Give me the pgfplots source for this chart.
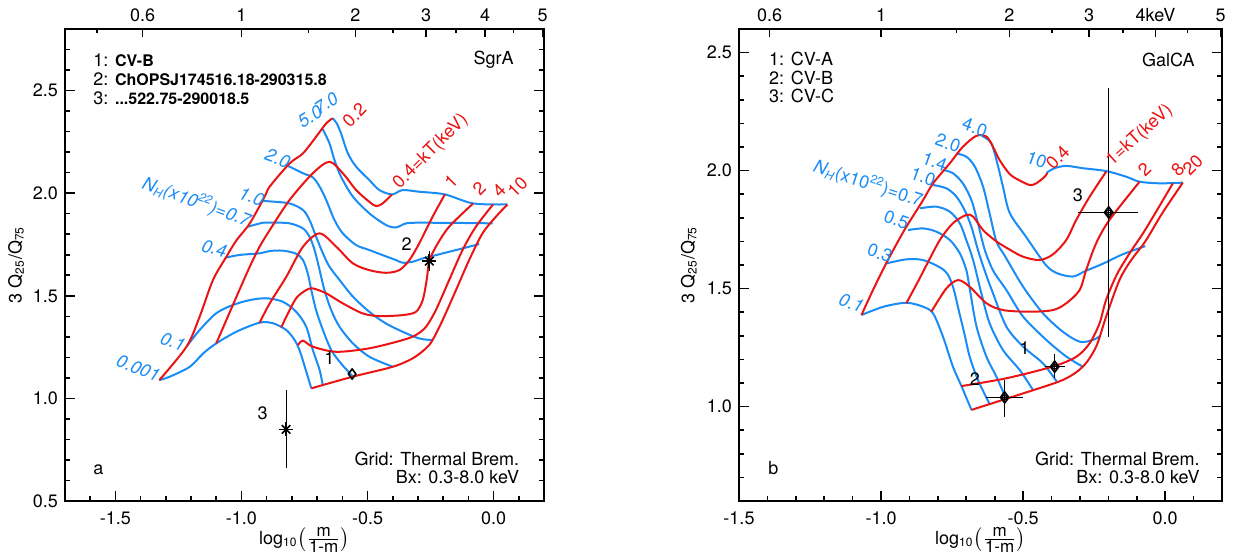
\documentclass[border=0pt]{standalone}
\usepackage{pgfplots}
\pgfplotsset{compat=1.18}
\usepackage{fontspec}
\setmainfont{TeX Gyre Heros}
\definecolor{cB}{RGB}{25,140,245}
\definecolor{cR}{RGB}{235,20,20}
\newcommand{\fs}{\fontsize{9}{10.5}\selectfont}
\tikzset{bl/.style={color=cB, line width=1pt, smooth}, rd/.style={color=cR, line width=1pt, smooth},
 lb/.style={font=\fs\itshape, text=cB, inner sep=0pt},
 lbu/.style={font=\fs, text=cB, inner sep=0pt},
 lr/.style={font=\fs, text=cR, inner sep=0pt},
 tx/.style={font=\fs, inner sep=0pt}}
\pgfplotsset{
 myaxis/.style={scale only axis, anchor=south west, height=236pt, clip=false,
  axis line style={line width=1pt}, tick style={line width=0.8pt, black},
  major tick length=5pt, minor tick length=2.5pt, tick align=inside,
  xtick pos=left, ytick pos=both, yticklabel pos=left,
  xtick={-1.5,-1,-0.5,0}, xticklabels={-1.5,-1.0,-0.5,0.0},
  ticklabel style={font=\fs},
  xticklabel style={yshift=-2pt},
  label style={font=\fs},
  /pgf/number format/assume math mode=true,
  xlabel={log\textsubscript{10}$\left(\frac{\mbox{\fontsize{8.5}{8.5}\selectfont m}}{\mbox{\fontsize{8.5}{8.5}\selectfont 1-m}}\right)$},
  ylabel={3 Q\textsubscript{25}/Q\textsubscript{75}},
  xlabel style={at={(axis description cs:0.5,-0.083)}, anchor=center},
 },
 topaxis/.style={scale only axis, anchor=south west, height=236pt,
  hide y axis, axis x line*=top, x axis line style={draw=none},
  tick style={line width=0.8pt, black}, major tick length=4pt, minor tick length=2pt,
  xtick align=inside, ymin=0, ymax=1,
  xtick={-1.392,-1.0,-0.548,-0.268,-0.0339,0.195},
  minor xtick={-1.574,-0.734,-0.398,-0.148,0.0792},
  ticklabel style={font=\fs},
 }
}
\begin{document}
\begin{tikzpicture}
\useasboundingbox (0,0) rectangle (616.5pt,278.5pt);
% ================= LEFT PANEL =================
\begin{axis}[myaxis, at={(32.5pt,28pt)}, width=239.5pt,
 xmin=-1.7, xmax=0.2, ymin=0.5, ymax=2.8,
 minor xtick={-1.7,-1.6,...,0.2},
 ytick={0.5,1,1.5,2,2.5}, yticklabels={0.5,1.0,1.5,2.0,2.5},
 minor ytick={0.5,0.6,...,2.8},
 ylabel style={at={(axis description cs:-0.102,0.5)}, anchor=center}]
% blue NH curves
\addplot[bl] coordinates {(-1.326,1.089) (-1.284,1.106) (-1.205,1.154) (-1.152,1.219) (-1.10,1.268) (-1.02,1.325) (-0.928,1.369) (-0.875,1.366) (-0.822,1.333) (-0.789,1.284) (-0.77,1.236) (-0.757,1.187) (-0.737,1.106) (-0.723,1.049)};
\addplot[bl] coordinates {(-1.218,1.252) (-1.166,1.333) (-1.10,1.415) (-1.034,1.455) (-0.967,1.479) (-0.902,1.488) (-0.836,1.471) (-0.783,1.422) (-0.743,1.349) (-0.717,1.236) (-0.69,1.138) (-0.677,1.06)};
\addplot[bl] coordinates {(-1.062,1.686) (-1.007,1.699) (-0.928,1.707) (-0.888,1.718) (-0.836,1.72) (-0.783,1.705) (-0.756,1.674) (-0.737,1.609) (-0.723,1.528) (-0.704,1.43) (-0.677,1.333) (-0.644,1.236) (-0.605,1.17) (-0.558,1.106)};
\addplot[bl] coordinates {(-0.974,1.837) (-0.915,1.856) (-0.888,1.857) (-0.809,1.853) (-0.756,1.828) (-0.730,1.788) (-0.710,1.723) (-0.690,1.625) (-0.671,1.528) (-0.644,1.43) (-0.611,1.349) (-0.558,1.268) (-0.493,1.203) (-0.40,1.154)};
\addplot[bl] coordinates {(-0.915,1.962) (-0.888,1.960) (-0.809,1.95) (-0.756,1.918) (-0.730,1.869) (-0.704,1.788) (-0.677,1.707) (-0.651,1.642) (-0.611,1.577) (-0.558,1.496) (-0.493,1.422) (-0.427,1.365) (-0.361,1.325) (-0.295,1.292) (-0.242,1.284)};
\addplot[bl] coordinates {(-0.822,2.137) (-0.756,2.097) (-0.717,2.077) (-0.690,2.032) (-0.664,1.967) (-0.631,1.869) (-0.598,1.804) (-0.545,1.747) (-0.493,1.723) (-0.44,1.698) (-0.387,1.674) (-0.361,1.661) (-0.321,1.666) (-0.281,1.682) (-0.229,1.698) (-0.123,1.731) (-0.057,1.752)};
\addplot[bl] coordinates {(-0.677,2.311) (-0.651,2.243) (-0.631,2.161) (-0.605,2.08) (-0.558,1.983) (-0.493,1.902) (-0.427,1.845) (-0.387,1.833) (-0.347,1.853) (-0.295,1.856) (-0.15,1.855) (-0.004,1.853)};
\addplot[bl] coordinates {(-0.638,2.365) (-0.622,2.34) (-0.605,2.291) (-0.578,2.194) (-0.545,2.129) (-0.493,2.064) (-0.453,2.015) (-0.403,1.994) (-0.361,2.015) (-0.295,2.007) (-0.193,1.994) (-0.081,1.95) (0.055,1.945)};
% red kT curves
\addplot[rd] coordinates {(-1.326,1.089) (-1.218,1.252) (-1.166,1.398) (-1.113,1.577) (-1.06,1.69) (-1.02,1.77) (-0.967,1.853) (-0.908,1.983) (-0.888,2.032) (-0.809,2.145) (-0.756,2.194) (-0.704,2.275) (-0.664,2.34) (-0.638,2.365)};
\addplot[rd] coordinates {(-1.10,1.268) (-1.02,1.495) (-0.967,1.642) (-0.928,1.739) (-0.888,1.82) (-0.809,1.967) (-0.717,2.097) (-0.651,2.153) (-0.598,2.097) (-0.545,2.015) (-0.493,1.958) (-0.466,1.937) (-0.44,1.95) (-0.403,1.994)};
\addplot[rd] coordinates {(-0.928,1.369) (-0.888,1.463) (-0.822,1.593) (-0.756,1.739) (-0.690,1.804) (-0.624,1.739) (-0.558,1.658) (-0.493,1.625) (-0.427,1.612) (-0.374,1.625) (-0.334,1.674) (-0.295,1.755) (-0.242,1.885) (-0.193,1.994)};
\addplot[rd] coordinates {(-0.842,1.346) (-0.822,1.398) (-0.783,1.488) (-0.743,1.528) (-0.717,1.536) (-0.664,1.512) (-0.598,1.463) (-0.519,1.414) (-0.453,1.401) (-0.36,1.406) (-0.308,1.422) (-0.281,1.479) (-0.265,1.58) (-0.255,1.669) (-0.229,1.739) (-0.176,1.837) (-0.081,1.95)};
\addplot[rd] coordinates {(-0.776,1.260) (-0.756,1.281) (-0.717,1.252) (-0.624,1.227) (-0.493,1.244) (-0.361,1.284) (-0.308,1.309) (-0.268,1.349) (-0.229,1.430) (-0.176,1.577) (-0.123,1.723) (-0.07,1.837) (-0.002,1.945)};
\addplot[rd] coordinates {(-0.723,1.049) (-0.558,1.106) (-0.40,1.154) (-0.321,1.195) (-0.268,1.244) (-0.242,1.284) (-0.202,1.382) (-0.149,1.528) (-0.097,1.674) (-0.044,1.804) (0.009,1.885) (0.055,1.945)};
% data points
\addplot[black, line width=0.6pt, error bars/.cd, y dir=both, y explicit, error mark=none] coordinates {(-0.823,0.849) += (0,0.192) -= (0,0.19)};
\addplot[black, line width=0.6pt, error bars/.cd, y dir=both, y explicit, error mark=none] coordinates {(-0.255,1.669) += (0,0.05) -= (0,0.05)};
\addplot[only marks, black, mark=+, mark size=3.5pt, mark options={line width=0.8pt}] coordinates {(-0.823,0.849) (-0.255,1.669)};
\addplot[only marks, black, mark=x, mark size=3pt, mark options={line width=0.8pt}] coordinates {(-0.823,0.849) (-0.255,1.669)};
\addplot[only marks, black, mark=diamond, mark size=2.5pt, mark options={line width=0.8pt}] coordinates {(-0.561,1.119)};
\node[tx] at (axis cs:-0.651,1.195) {1};
\node[tx] at (axis cs:-0.345,1.752) {2};
\node[tx] at (axis cs:-0.916,0.927) {3};
% curve labels
\node[lb, rotate=-22] at (axis cs:-1.409,1.147) {0.001};
\node[lb, rotate=-20] at (axis cs:-1.272,1.276) {0.1};
\node[lb, rotate=-15] at (axis cs:-1.108,1.731) {0.4};
\node[lb, rotate=-20] at (axis cs:-1.178,1.958) {N\textsubscript{H}(x10\textsuperscript{22})=0.7};
\node[lb, rotate=-20] at (axis cs:-0.96,1.983) {1.0};
\node[lb, rotate=-20] at (axis cs:-0.856,2.17) {2.0};
\node[lb, rotate=33] at (axis cs:-0.728,2.372) {5.0};
\node[lb, rotate=34] at (axis cs:-0.664,2.438) {7.0};
\node[lr, rotate=45] at (axis cs:-0.552,2.381) {0.2};
\node[lr, rotate=45] at (axis cs:-0.249,2.202) {0.4=kT(keV)};
\node[lr, rotate=45] at (axis cs:-0.169,2.056) {1};
\node[lr, rotate=45] at (axis cs:-0.057,2.024) {2};
\node[lr, rotate=45] at (axis cs:0.022,2.015) {4};
\node[lr, rotate=45] at (axis cs:0.095,2.032) {10};
% texts
\node[tx, anchor=west] at (axis cs:-1.589,2.649) {1: \fontsize{8}{9}\selectfont\bfseries CV-B};
\node[tx, anchor=west] at (axis cs:-1.589,2.556) {2: \fontsize{8}{9}\selectfont\bfseries ChOPSJ174516.18-290315.8};
\node[tx, anchor=west] at (axis cs:-1.589,2.464) {3: \fontsize{8}{9}\selectfont\bfseries ...522.75-290018.5};
\node[tx, anchor=east] at (axis cs:0.081,2.649) {SgrA};
\node[tx] at (axis cs:-1.568,0.654) {a};
\node[tx, anchor=east] at (axis cs:0.103,0.703) {Grid: Thermal Brem.};
\node[tx, anchor=east] at (axis cs:0.103,0.618) {Bx: 0.3-8.0 keV};
\end{axis}
\begin{axis}[topaxis, at={(32.5pt,28pt)}, width=239.5pt, xmin=-1.7, xmax=0.2,
 xticklabels={0.6,1,2,3,4,5}]
\end{axis}
% ================= RIGHT PANEL =================
\begin{axis}[myaxis, at={(369.5pt,28pt)}, width=241.5pt,
 xmin=-1.5, xmax=0.2, ymin=0.6, ymax=2.6,
 minor xtick={-1.5,-1.4,...,0.2},
 ytick={1,1.5,2,2.5}, yticklabels={1.0,1.5,2.0,2.5},
 minor ytick={0.6,0.7,...,2.6},
 ylabel style={at={(axis description cs:-0.104,0.5)}, anchor=center}]
% blue NH curves
\addplot[bl] coordinates {(-1.069,1.388) (-0.992,1.423) (-0.911,1.440) (-0.852,1.423) (-0.817,1.395) (-0.782,1.296) (-0.747,1.169) (-0.717,1.087) (-0.682,0.986)};
\addplot[bl] coordinates {(-0.98,1.607) (-0.911,1.624) (-0.852,1.621) (-0.793,1.59) (-0.765,1.56) (-0.745,1.50) (-0.725,1.40) (-0.705,1.30) (-0.688,1.211) (-0.659,1.113) (-0.618,1.011)};
\addplot[bl] coordinates {(-0.905,1.748) (-0.852,1.755) (-0.805,1.741) (-0.758,1.706) (-0.723,1.650) (-0.70,1.579) (-0.688,1.50) (-0.664,1.339) (-0.629,1.211) (-0.594,1.127) (-0.56,1.033)};
\addplot[bl] coordinates {(-0.864,1.840) (-0.805,1.847) (-0.758,1.826) (-0.723,1.777) (-0.70,1.706) (-0.676,1.621) (-0.647,1.48) (-0.618,1.353) (-0.571,1.24) (-0.512,1.155) (-0.465,1.07)};
\addplot[bl] coordinates {(-0.817,1.939) (-0.770,1.925) (-0.735,1.89) (-0.706,1.833) (-0.682,1.762) (-0.659,1.664) (-0.635,1.575) (-0.606,1.48) (-0.559,1.339) (-0.5,1.254) (-0.43,1.183) (-0.38,1.103)};
\addplot[bl] coordinates {(-0.782,2.003) (-0.747,1.989) (-0.712,1.946) (-0.682,1.875) (-0.659,1.777) (-0.635,1.664) (-0.605,1.575) (-0.559,1.494) (-0.5,1.381) (-0.418,1.282) (-0.348,1.212) (-0.29,1.169)};
\addplot[bl] coordinates {(-0.735,2.073) (-0.70,2.059) (-0.67,2.017) (-0.641,1.932) (-0.618,1.819) (-0.594,1.70) (-0.565,1.64) (-0.5,1.508) (-0.43,1.395) (-0.36,1.317) (-0.301,1.275) (-0.255,1.282) (-0.228,1.30)};
\addplot[bl] coordinates {(-0.645,2.147) (-0.612,2.116) (-0.588,2.017) (-0.571,1.932) (-0.547,1.82) (-0.49,1.72) (-0.42,1.60) (-0.38,1.565) (-0.325,1.551) (-0.28,1.575) (-0.22,1.605) (-0.15,1.645) (-0.07,1.68)};
\addplot[bl] coordinates {(-0.418,1.99) (-0.39,2.01) (-0.348,2.02) (-0.289,2.01) (-0.208,1.998) (-0.137,1.974) (-0.09,1.953) (-0.02,1.946) (0.062,1.949)};
% red kT curves
\addplot[rd] coordinates {(-1.069,1.388) (-1.03,1.49) (-0.985,1.60) (-0.945,1.69) (-0.911,1.762) (-0.852,1.875) (-0.817,1.946) (-0.758,2.031) (-0.712,2.101) (-0.665,2.147) (-0.629,2.144) (-0.606,2.101) (-0.583,2.045) (-0.547,1.985) (-0.512,1.958) (-0.477,1.939) (-0.454,1.946) (-0.424,1.974) (-0.415,1.99)};
\addplot[rd] coordinates {(-0.911,1.438) (-0.87,1.53) (-0.84,1.60) (-0.793,1.706) (-0.747,1.777) (-0.70,1.812) (-0.676,1.805) (-0.641,1.748) (-0.594,1.70) (-0.547,1.665) (-0.5,1.635) (-0.442,1.621) (-0.395,1.645) (-0.348,1.706) (-0.313,1.791) (-0.266,1.889) (-0.208,1.995)};
\addplot[rd] coordinates {(-0.823,1.402) (-0.77,1.501) (-0.729,1.536) (-0.688,1.508) (-0.629,1.438) (-0.571,1.409) (-0.477,1.402) (-0.395,1.409) (-0.348,1.438) (-0.301,1.494) (-0.278,1.579) (-0.243,1.692) (-0.196,1.791) (-0.09,1.953)};
\addplot[rd] coordinates {(-0.717,1.087) (-0.559,1.12) (-0.395,1.170) (-0.313,1.211) (-0.266,1.268) (-0.231,1.353) (-0.208,1.452) (-0.17,1.56) (-0.125,1.65) (-0.075,1.74) (-0.025,1.84) (0.027,1.946)};
\addplot[rd] coordinates {(-0.682,0.986) (-0.5,1.056) (-0.36,1.113) (-0.29,1.169) (-0.243,1.254) (-0.208,1.381) (-0.161,1.536) (-0.12,1.62) (-0.07,1.70) (-0.01,1.82) (0.062,1.949)};
% data points
\addplot[black, line width=0.6pt, error bars/.cd, x dir=both, x explicit, y dir=both, y explicit, error mark=none] coordinates {(-0.199,1.823) += (0.103,0.526) -= (0.108,0.527)};
\addplot[black, line width=0.6pt, error bars/.cd, x dir=both, x explicit, y dir=both, y explicit, error mark=none] coordinates {(-0.389,1.169) += (0.035,0.053) -= (0.035,0.049)};
\addplot[black, line width=0.6pt, error bars/.cd, x dir=both, x explicit, y dir=both, y explicit, error mark=none] coordinates {(-0.565,1.039) += (0.065,0.074) -= (0.064,0.082)};
\addplot[only marks, black, mark=diamond, mark size=2.8pt, mark options={line width=0.8pt}] coordinates {(-0.199,1.823) (-0.389,1.169) (-0.565,1.039)};
\addplot[only marks, black, mark=o, mark size=1.2pt, mark options={line width=0.6pt}] coordinates {(-0.199,1.823) (-0.389,1.169) (-0.565,1.039)};
\node[tx] at (axis cs:-0.307,1.897) {3};
\node[tx] at (axis cs:-0.495,1.247) {1};
\node[tx] at (axis cs:-0.67,1.116) {2};
% curve labels
\node[lbu, rotate=-18] at (axis cs:-1.045,1.946) {\itshape N\textsubscript{H}\upshape(x10\textsuperscript{22})=0.7};
\node[lbu, rotate=-20] at (axis cs:-0.946,1.791) {0.5};
\node[lbu, rotate=-20] at (axis cs:-1.004,1.650) {0.3};
\node[lbu, rotate=-20] at (axis cs:-0.852,1.974) {1.0};
\node[lbu, rotate=-20] at (axis cs:-0.811,2.038) {1.4};
\node[lbu, rotate=-20] at (axis cs:-0.764,2.116) {2.0};
\node[lbu, rotate=-20] at (axis cs:-0.670,2.183) {4.0};
\node[lb, rotate=-20] at (axis cs:-1.104,1.438) {0.1};
\node[lbu, rotate=-20] at (axis cs:-0.452,2.045) {10};
\node[lr, rotate=45] at (axis cs:-0.378,2.055) {0.4};
\node[lr, rotate=42] at (axis cs:-0.09,2.150) {1=kT(keV)};
\node[lr, rotate=45] at (axis cs:-0.073,2.003) {2};
\node[lr, rotate=45] at (axis cs:0.044,2.003) {8};
\node[lr, rotate=45] at (axis cs:0.097,2.024) {20};
% texts
\node[tx, anchor=west] at (axis cs:-1.395,2.472) {1: CV-A};
\node[tx, anchor=west] at (axis cs:-1.395,2.394) {2: CV-B};
\node[tx, anchor=west] at (axis cs:-1.395,2.316) {3: CV-C};
\node[tx, anchor=east] at (axis cs:0.105,2.469) {GalCA};
\node[tx] at (axis cs:-1.379,0.739) {b};
\node[tx, anchor=east] at (axis cs:0.123,0.777) {Grid: Thermal Brem.};
\node[tx, anchor=east] at (axis cs:0.123,0.703) {Bx: 0.3-8.0 keV};
\end{axis}
\begin{axis}[topaxis, at={(369.5pt,28pt)}, width=241.5pt, xmin=-1.5, xmax=0.2,
 xticklabels={0.6,1,2,3,4keV,5}]
\end{axis}
\end{tikzpicture}
\end{document}
